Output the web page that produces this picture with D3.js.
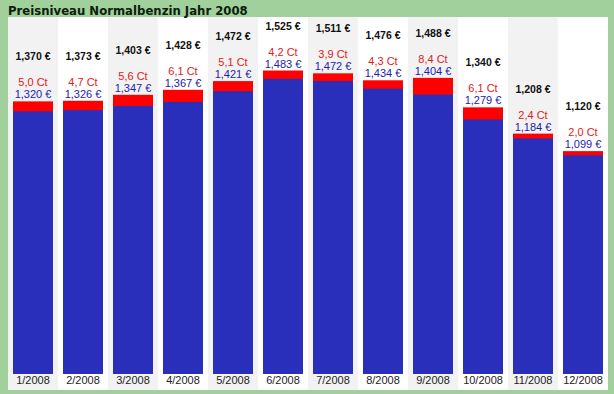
<!DOCTYPE html>
<html><head><meta charset="utf-8">
<script src="https://cdn.jsdelivr.net/npm/d3@7"></script>
<style>html,body{margin:0;padding:0;background:#a2d09c;}svg{display:block;}</style>
</head><body>
<script>
const months = ["1/2008","2/2008","3/2008","4/2008","5/2008","6/2008","7/2008","8/2008","9/2008","10/2008","11/2008","12/2008"];
const maxPrice = [1.370,1.373,1.403,1.428,1.472,1.525,1.511,1.476,1.488,1.340,1.208,1.120];
const minPrice = [1.320,1.326,1.347,1.367,1.421,1.483,1.472,1.434,1.404,1.279,1.184,1.099];
const spreadCt = [5.0,4.7,5.6,6.1,5.1,4.2,3.9,4.3,8.4,6.1,2.4,2.0];
const title = "Preisniveau Normalbenzin Jahr 2008";

const W = 614, H = 394;
const svg = d3.select("body").append("svg").attr("width", W).attr("height", H);
svg.append("rect").attr("width", W).attr("height", H).attr("fill", "#a2d09c");

const panel = {x0: 8, x1: 608, y0: 17, y1: 390};
const x = d3.scaleBand().domain(months).range([panel.x0, panel.x1]).paddingInner(0).paddingOuter(0);
const y = d3.scaleLinear().domain([0, 1.6]).range([374, 374 - 1.6 * 199]);

svg.append("rect").attr("x", panel.x0).attr("y", panel.y0)
  .attr("width", panel.x1 - panel.x0).attr("height", panel.y1 - panel.y0).attr("fill", "#ffffff");

// alternating columns
svg.selectAll("rect.col").data(months).enter().append("rect")
  .attr("class", "col")
  .attr("x", d => x(d)).attr("y", panel.y0)
  .attr("width", x.bandwidth()).attr("height", panel.y1 - panel.y0)
  .attr("fill", (d, i) => i % 2 === 0 ? "#f2f2f2" : "#ffffff");

const fmt = v => d3.format(".3f")(v).replace(".", ",") + " €";
const fmtCt = v => d3.format(".1f")(v).replace(".", ",") + " Ct";
const barW = 40, off = (x.bandwidth() - barW) / 2;

const g = svg.selectAll("g.m").data(months).enter().append("g");
g.append("rect").attr("x", d => x(d) + off).attr("width", barW)
  .attr("y", (d, i) => y(maxPrice[i])).attr("height", (d, i) => y(0) - y(maxPrice[i]))
  .attr("fill", "#ff0000");
g.append("rect").attr("x", d => x(d) + off).attr("width", barW)
  .attr("y", (d, i) => y(minPrice[i])).attr("height", (d, i) => y(0) - y(minPrice[i]))
  .attr("fill", "#2a2fbb");

const cx = d => x(d) + x.bandwidth() / 2;
g.append("text").attr("x", cx).attr("y", (d, i) => y(maxPrice[i]) - 41)
  .attr("text-anchor", "middle").attr("font-family", "Liberation Sans, Arial, sans-serif")
  .attr("font-size", "10.5px").attr("font-weight", "bold").attr("fill", "#111")
  .text((d, i) => fmt(maxPrice[i]));
g.append("text").attr("x", cx).attr("y", (d, i) => y(maxPrice[i]) - 15)
  .attr("text-anchor", "middle").attr("font-family", "Liberation Sans, Arial, sans-serif")
  .attr("font-size", "11px").attr("fill", "#e0201c")
  .text((d, i) => fmtCt(spreadCt[i]));
g.append("text").attr("x", cx).attr("y", (d, i) => y(maxPrice[i]) - 3)
  .attr("text-anchor", "middle").attr("font-family", "Liberation Sans, Arial, sans-serif")
  .attr("font-size", "11px").attr("fill", "#1c22b0")
  .text((d, i) => fmt(minPrice[i]));

// x axis labels
const xAxis = d3.axisBottom(x).tickSize(0).tickPadding(0);
const ax = svg.append("g").attr("transform", "translate(0,376)").call(xAxis);
ax.select(".domain").remove();
ax.selectAll("text").attr("font-family", "Liberation Sans, Arial, sans-serif")
  .attr("font-size", "11px").attr("fill", "#222").attr("dy", "0.71em");

svg.append("text").attr("x", 8).attr("y", 15)
  .attr("font-family", "DejaVu Sans, Verdana, sans-serif").attr("font-weight", "bold")
  .attr("font-size", "11.7px").attr("fill", "#0c200c").text(title);
</script>
</body></html>
